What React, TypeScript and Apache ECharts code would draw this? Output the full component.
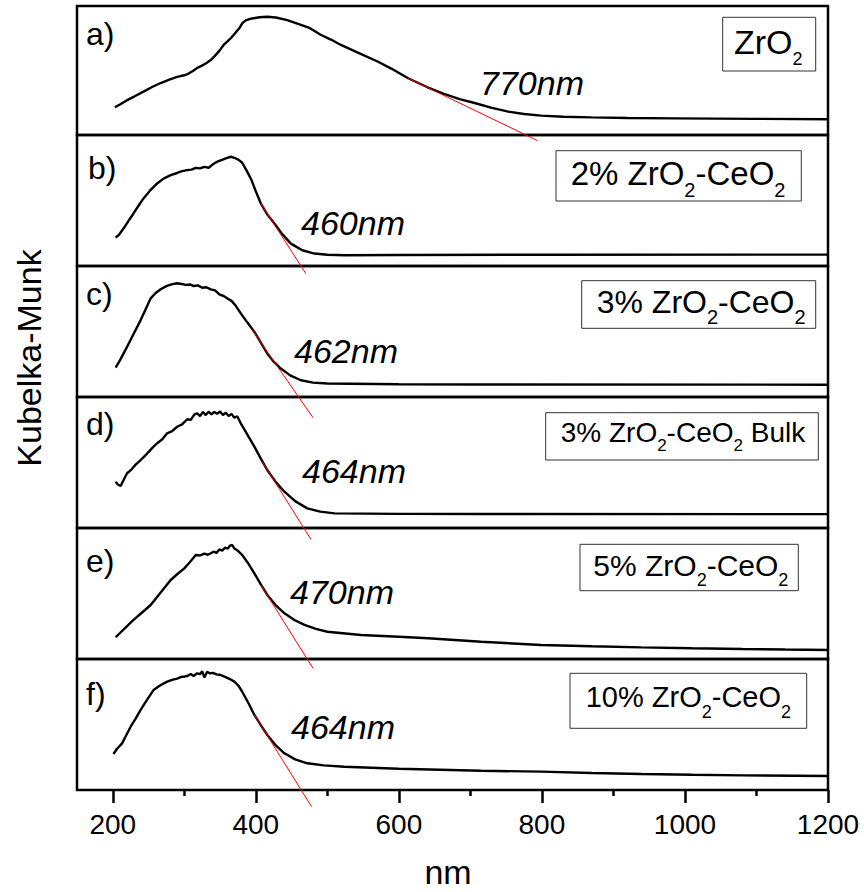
import React, { useEffect, useRef } from "react";
import * as echarts from "echarts";

// Wavelength axis (nm)
const wavelengthTicks = [200, 400, 600, 800, 1000, 1200];
const wavelengthMinorTicks = [300, 500, 700, 900, 1100];

const panelLetters = ["a)", "b)", "c)", "d)", "e)", "f)"];

// Sample names, written as rich-text tokens so the "2" can be subscripted
const sampleNames = [
  "{m|ZrO}{s|2}",
  "{m|2% ZrO}{s|2}{m|-CeO}{s|2}",
  "{m|3% ZrO}{s|2}{m|-CeO}{s|2}",
  "{m|3% ZrO}{s|2}{m|-CeO}{s|2}{m| Bulk}",
  "{m|5% ZrO}{s|2}{m|-CeO}{s|2}",
  "{m|10% ZrO}{s|2}{m|-CeO}{s|2}",
];

// Absorption edges from the tangent construction
const edgeLabels = ["770nm", "460nm", "462nm", "464nm", "470nm", "464nm"];

// Kubelka-Munk spectra, [wavelength nm, F(R) arbitrary units]
const spectrumZrO2 = [
  [203, 21.5], [210, 23.6], [220, 27.0], [230, 29.8], [243, 33.6], [255, 37.2], [267, 40.3],
  [280, 43.2], [290, 45.0], [295, 45.7], [300, 46.3], [306, 47.6], [312, 49.6], [318, 51.9],
  [324, 53.6], [330, 55.4], [337, 58.1], [343, 61.5], [349, 65.2], [355, 69.8], [360, 72.4],
  [365, 75.1], [369, 77.5], [373, 80.3], [377, 82.8], [381, 86.6], [386, 88.9], [392, 90.0],
  [397, 90.5], [405, 91.3], [416, 91.7], [428, 91.1], [444, 89.1], [460, 86.0], [475, 83.0],
  [481, 81.0], [490, 77.9], [505, 74.0], [519, 69.8], [545, 63.3], [571, 56.8], [590, 51.3],
  [613, 44.0], [640, 37.0], [663, 31.8], [685, 27.8], [706, 24.8], [730, 21.0], [753, 18.1],
  [775, 16.3], [799, 15.0], [830, 14.2], [869, 13.7], [920, 13.2], [986, 12.9], [1100, 12.5],
  [1200, 12.2],
];
const spectrum2 = [
  [204, 21.7], [209, 24.0], [215, 28.6], [222, 34.5], [229, 40.1], [236, 46.0], [243, 51.6],
  [252, 57.5], [262, 63.0], [271, 66.7], [281, 69.4], [290, 71.0], [297, 72.4], [304, 73.2],
  [310, 73.6], [316, 74.9], [322, 74.5], [328, 75.7], [334, 75.0], [340, 77.6], [346, 79.6],
  [352, 80.9], [358, 82.2], [365, 83.4], [370, 82.6], [376, 81.0], [381, 78.8], [387, 73.0],
  [394, 65.6], [400, 57.0], [407, 47.7], [416, 39.4], [426, 32.4], [437, 24.3], [449, 17.1],
  [465, 12.0], [482, 9.5], [500, 8.6], [524, 8.2], [600, 8.4], [800, 8.6], [1200, 8.7],
];
const spectrum3 = [
  [204, 22.5], [210, 28.0], [220, 38.3], [230, 49.0], [239, 58.7], [246, 67.0], [253, 75.3],
  [260, 79.4], [267, 82.2], [275, 84.6], [282, 86.0], [290, 86.8], [296, 86.3], [302, 85.6],
  [308, 85.9], [313, 84.7], [319, 85.2], [325, 83.4], [331, 83.8], [337, 82.2], [343, 81.4],
  [349, 78.3], [355, 77.1], [360, 75.3], [366, 73.4], [372, 69.6], [379, 63.8], [388, 57.0],
  [398, 49.7], [407, 41.5], [416, 33.2], [425, 27.0], [435, 21.7], [448, 16.5], [463, 12.8],
  [480, 11.0], [500, 10.3], [600, 9.7], [715, 9.5], [1200, 9.4],
];
const spectrum3Bulk = [
  [204, 35.3], [207, 33.2], [211, 32.1], [215, 36.5], [220, 41.8], [226, 44.6], [232, 48.4],
  [239, 51.9], [247, 56.2], [255, 61.0], [262, 64.7], [269, 67.5], [276, 72.3], [283, 74.0],
  [290, 77.3], [297, 79.1], [304, 83.0], [309, 82.5], [314, 86.5], [318, 87.6], [322, 85.4],
  [326, 88.6], [330, 86.2], [334, 88.8], [338, 86.7], [342, 88.6], [346, 87.2], [350, 88.9],
  [354, 86.3], [358, 88.0], [362, 85.5], [366, 87.1], [370, 84.2], [374, 85.3], [379, 79.9],
  [388, 71.5], [398, 62.1], [407, 53.0], [416, 44.3], [428, 35.0], [440, 27.7], [455, 20.5],
  [472, 15.0], [490, 12.5], [510, 11.2], [600, 10.8], [715, 10.7], [1200, 10.6],
];
const spectrum5 = [
  [204, 16.6], [215, 22.4], [229, 29.8], [241, 35.5], [253, 41.2], [267, 50.8], [281, 60.3],
  [290, 64.7], [300, 69.2], [308, 74.0], [316, 79.4], [322, 79.0], [328, 80.4], [333, 79.6],
  [337, 80.7], [341, 81.9], [345, 81.0], [349, 83.6], [353, 82.8], [357, 85.0], [361, 84.3],
  [364, 86.6], [367, 87.0], [370, 84.4], [375, 82.6], [381, 79.4], [390, 72.5], [398, 65.4],
  [407, 57.0], [416, 48.9], [428, 41.0], [440, 34.9], [454, 29.8], [468, 26.0], [484, 23.0],
  [500, 20.8], [547, 18.3], [600, 17.0], [641, 15.8], [715, 13.2], [799, 10.7], [870, 9.7],
  [939, 8.9], [1010, 8.2], [1080, 7.6], [1140, 7.2], [1200, 6.9],
];
const spectrum10 = [
  [201, 27.5], [206, 31.5], [213, 35.6], [219, 42.0], [225, 48.3], [232, 54.5], [239, 61.1],
  [248, 69.0], [257, 76.3], [266, 79.8], [276, 82.7], [283, 84.1], [290, 85.0], [296, 86.4],
  [300, 86.5], [305, 87.2], [309, 88.6], [313, 87.0], [318, 89.1], [322, 88.4], [325, 90.6],
  [328, 85.9], [332, 90.3], [336, 89.0], [340, 89.4], [345, 88.3], [351, 87.8], [357, 86.3],
  [363, 84.9], [370, 82.7], [376, 79.4], [381, 75.0], [390, 66.0], [398, 57.3], [407, 49.5],
  [416, 42.0], [428, 34.0], [440, 28.0], [455, 23.4], [472, 20.4], [495, 18.8], [524, 17.8],
  [600, 16.2], [715, 14.7], [799, 14.0], [870, 13.0], [939, 12.2], [1010, 11.6], [1080, 11.2],
  [1200, 10.7],
];

// Tangents drawn along the absorption edge
const tangentZrO2 = [[613, 44.0], [794, -4.4]];
const tangent2 = [[407, 47.7], [470, -5.8]];
const tangent3 = [[395, 51.0], [480, -15.8]];
const tangent3Bulk = [[409, 50.6], [477, -8.6]];
const tangent5 = [[407, 56.5], [480, -7.1]];
const tangent10 = [[398, 57.3], [478, -12.7]];

const spectra = [spectrumZrO2, spectrum2, spectrum3, spectrum3Bulk, spectrum5, spectrum10];
const tangents = [tangentZrO2, tangent2, tangent3, tangent3Bulk, tangent5, tangent10];

// ---- layout ----
const FONT = "'Liberation Sans', Arial, Helvetica, sans-serif";
const PLOT_LEFT = 77;
const PLOT_WIDTH = 751;
const panelTops = [6, 135, 266, 397, 528, 659];
const panelHeights = [129, 131, 131, 131, 131, 131];

// per-panel placement of the letter, the edge label and the sample box
const letterPos = [
  [86, 45.5], [88, 179.3], [86, 305], [86, 435], [86, 571.7], [86, 705],
];
const edgePos = [
  [480, 95], [301, 235], [294, 362.7], [302, 483], [290, 604], [291, 739],
];
// box: x, y, w, h ; text: x, baseline ; main size, sub size, sub drop
const boxes = [
  { x: 722.7, y: 17.3, w: 93, h: 53.7, tx: 734, tb: 53.3, m: 34, s: 18, d: 11.7 },
  { x: 556, y: 150.7, w: 245.3, h: 50.3, tx: 570.7, tb: 185, m: 33, s: 20, d: 11.5 },
  { x: 581.7, y: 280.7, w: 234, h: 47.6, tx: 596.7, tb: 313.3, m: 32, s: 20, d: 10.7 },
  { x: 545.7, y: 412.7, w: 272.6, h: 47.3, tx: 560.7, tb: 442.7, m: 28, s: 17, d: 9 },
  { x: 580, y: 544.3, w: 218.3, h: 46.4, tx: 593.3, tb: 575.7, m: 30, s: 18, d: 10.3 },
  { x: 570, y: 673.3, w: 236.7, h: 55, tx: 585.7, tb: 706.7, m: 29, s: 18, d: 11.6 },
];

const CENTRAL = 0.3465; // distance from baseline to the central baseline, in em

function buildOption(): echarts.EChartsOption {
  const grids = panelTops.map((top, i) => ({
    left: PLOT_LEFT,
    width: PLOT_WIDTH,
    top,
    height: panelHeights[i],
    show: true,
    borderColor: "#000",
    borderWidth: 2.5,
    backgroundColor: "transparent",
  }));

  const xAxes: any[] = panelTops.map((_, i) => {
    const last = i === panelTops.length - 1;
    return {
      gridIndex: i,
      type: "value",
      min: 150,
      max: 1200,
      position: "bottom",
      show: last,
      axisLine: { show: false },
      splitLine: { show: false },
      axisTick: {
        show: last,
        customValues: wavelengthTicks,
        length: 13,
        lineStyle: { color: "#000", width: 2.5 },
      },
      axisLabel: {
        show: last,
        customValues: wavelengthTicks,
        formatter: (v: number) => String(v),
        fontSize: 28,
        fontFamily: FONT,
        color: "#000",
        margin: 20,
      },
    };
  });
  xAxes.push({
    gridIndex: panelTops.length - 1,
    type: "value",
    min: 150,
    max: 1200,
    position: "bottom",
    axisLine: { show: false },
    splitLine: { show: false },
    axisTick: {
      show: true,
      customValues: wavelengthMinorTicks,
      length: 6,
      lineStyle: { color: "#000", width: 2.5 },
    },
    axisLabel: { show: false },
  });

  const yAxes = panelTops.map((_, i) => ({
    gridIndex: i,
    type: "value",
    min: 0,
    max: 100,
    show: false,
    splitLine: { show: false },
  }));

  const series: any[] = [];
  spectra.forEach((data, i) => {
    series.push({
      type: "line",
      xAxisIndex: i,
      yAxisIndex: i,
      data,
      symbol: "none",
      lineStyle: { color: "#000", width: 2.4 },
      z: 2,
    });
  });
  tangents.forEach((data, i) => {
    series.push({
      type: "line",
      xAxisIndex: i,
      yAxisIndex: i,
      data,
      symbol: "none",
      clip: false,
      lineStyle: { color: "#ff0000", width: 1 },
      z: 3,
    });
  });

  const graphic: any[] = [];
  panelLetters.forEach((t, i) => {
    graphic.push({
      type: "text",
      x: letterPos[i][0],
      y: letterPos[i][1] - CENTRAL * 32,
      style: {
        text: t,
        fontSize: 32,
        fontFamily: FONT,
        fill: "#000",
        align: "left",
        verticalAlign: "middle",
      },
    });
  });
  edgeLabels.forEach((t, i) => {
    graphic.push({
      type: "text",
      x: edgePos[i][0],
      y: edgePos[i][1] - CENTRAL * 34,
      style: {
        text: t,
        fontSize: 34,
        fontStyle: "italic",
        fontFamily: FONT,
        fill: "#000",
        align: "left",
        verticalAlign: "middle",
      },
    });
  });
  sampleNames.forEach((t, i) => {
    const b = boxes[i];
    const lh = 2 * (b.d + CENTRAL * b.m + (0.5 - CENTRAL) * b.s);
    graphic.push({
      type: "rect",
      shape: { x: b.x, y: b.y, width: b.w, height: b.h },
      style: { fill: "#fff", stroke: "#333", lineWidth: 1 },
      z: 10,
    });
    graphic.push({
      type: "text",
      x: b.tx,
      y: b.tb - CENTRAL * b.m,
      z: 11,
      style: {
        text: t,
        align: "left",
        verticalAlign: "middle",
        fill: "#000",
        rich: {
          m: { fontSize: b.m, fontFamily: FONT, lineHeight: lh, fill: "#000" },
          s: {
            fontSize: b.s,
            fontFamily: FONT,
            lineHeight: b.s,
            verticalAlign: "bottom",
            fill: "#000",
          },
        },
      },
    });
  });
  graphic.push({
    type: "text",
    x: 29,
    y: 358,
    rotation: Math.PI / 2,
    style: {
      text: "Kubelka-Munk",
      fontSize: 34,
      fontFamily: FONT,
      fill: "#000",
      align: "center",
      verticalAlign: "middle",
    },
  });
  graphic.push({
    type: "text",
    x: 448,
    y: 884 - CENTRAL * 34,
    style: {
      text: "nm",
      fontSize: 34,
      fontFamily: FONT,
      fill: "#000",
      align: "center",
      verticalAlign: "middle",
    },
  });

  return {
    animation: false,
    backgroundColor: "#fff",
    grid: grids,
    xAxis: xAxes,
    yAxis: yAxes,
    series,
    graphic,
  } as echarts.EChartsOption;
}

export default function App() {
  const ref = useRef<HTMLDivElement | null>(null);
  useEffect(() => {
    if (!ref.current) return;
    const chart = echarts.init(ref.current, undefined, { renderer: "svg" });
    chart.setOption(buildOption());
    return () => chart.dispose();
  }, []);
  return (
    <div
      ref={ref}
      style={{ position: "fixed", left: 0, top: 0, width: 864, height: 892, background: "#fff" }}
    />
  );
}
